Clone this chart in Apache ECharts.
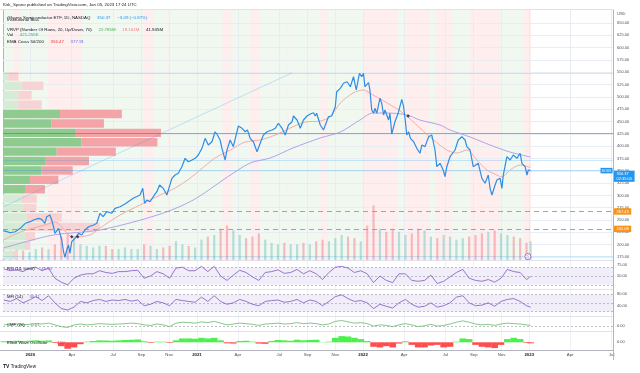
<!DOCTYPE html>
<html><head><meta charset="utf-8">
<script src="https://cdn.jsdelivr.net/npm/echarts@6/dist/echarts.min.js"></script>
<style>html,body{margin:0;padding:0;background:#fff}#c{width:640px;height:373px}</style>
</head><body><div id="c"></div>
<script>
// ---------------- DATA ----------------
const priceDates = ['2019-11-03','2019-11-18','2019-11-29','2019-12-10','2019-12-21','2020-01-01','2020-01-08','2020-01-19','2020-01-26','2020-02-02','2020-02-06','2020-02-13','2020-02-17','2020-02-21','2020-02-24','2020-03-03','2020-03-10','2020-03-14','2020-03-17','2020-03-21','2020-03-25','2020-03-28','2020-04-01','2020-04-08','2020-04-16','2020-04-23','2020-04-30','2020-05-08','2020-05-19','2020-05-26','2020-06-02','2020-06-09','2020-06-17','2020-06-28','2020-07-05','2020-07-16','2020-07-27','2020-08-03','2020-08-14','2020-08-21','2020-08-29','2020-09-04','2020-09-08','2020-09-13','2020-09-20','2020-09-27','2020-10-05','2020-10-11','2020-10-19','2020-10-27','2020-10-30','2020-11-07','2020-11-14','2020-11-21','2020-11-29','2020-12-06','2020-12-13','2020-12-21','2020-12-28','2021-01-04','2021-01-12','2021-01-19','2021-01-26','2021-02-03','2021-02-10','2021-02-15','2021-02-21','2021-02-25','2021-03-04','2021-03-08','2021-03-15','2021-03-22','2021-03-30','2021-04-02','2021-04-10','2021-04-17','2021-04-22','2021-04-28','2021-05-05','2021-05-13','2021-05-20','2021-05-27','2021-06-04','2021-06-15','2021-06-22','2021-06-29','2021-07-07','2021-07-14','2021-07-21','2021-07-29','2021-08-01','2021-08-09','2021-08-16','2021-08-23','2021-08-31','2021-09-07','2021-09-14','2021-09-18','2021-09-21','2021-09-29','2021-10-06','2021-10-10','2021-10-17','2021-10-24','2021-11-01','2021-11-04','2021-11-12','2021-11-19','2021-11-27','2021-12-04','2021-12-11','2021-12-17','2021-12-24','2021-12-29','2022-01-02','2022-01-05','2022-01-13','2022-01-16','2022-01-20','2022-01-24','2022-01-27','2022-01-31','2022-02-07','2022-02-11','2022-02-15','2022-02-18','2022-02-26','2022-03-01','2022-03-05','2022-03-12','2022-03-19','2022-03-27','2022-03-31','2022-04-04','2022-04-07','2022-04-11','2022-04-15','2022-04-22','2022-04-29','2022-05-06','2022-05-10','2022-05-17','2022-05-25','2022-06-01','2022-06-05','2022-06-08','2022-06-12','2022-06-19','2022-06-26','2022-06-30','2022-07-04','2022-07-11','2022-07-15','2022-07-22','2022-07-29','2022-08-06','2022-08-13','2022-08-17','2022-08-24','2022-08-31','2022-09-11','2022-09-19','2022-09-26','2022-10-03','2022-10-07','2022-10-11','2022-10-18','2022-10-22','2022-10-29','2022-11-02','2022-11-05','2022-11-13','2022-11-20','2022-11-27','2022-12-05','2022-12-12','2022-12-16','2022-12-23','2022-12-27','2022-12-30','2023-01-04'];
const priceValues = [228.4,224.4,226.3,233.2,243.4,246.7,250.1,253.5,251.4,243.4,256.8,260.2,250.1,236.5,223.1,233.2,209.5,185.7,174.4,189.2,199.3,182.5,206.1,213.0,223.1,219.6,229.8,236.5,240.0,243.4,263.7,256.8,267.0,263.7,273.8,277.1,282.6,287.2,294.1,297.4,300.8,314.4,284.0,290.7,287.2,297.4,307.5,321.1,314.4,300.8,304.3,334.7,341.4,344.9,358.3,375.3,368.4,371.9,375.3,382.0,395.6,415.9,402.3,409.0,429.3,422.6,412.5,395.6,371.9,392.2,412.5,399.0,429.3,440.9,436.2,429.3,432.8,415.9,409.0,388.7,405.8,422.6,429.3,432.8,436.2,446.4,436.2,422.6,442.9,449.6,461.2,453.1,436.2,453.1,461.2,465.3,467.9,461.2,466.7,442.9,432.8,436.2,459.8,461.2,480.1,510.5,517.4,527.6,530.8,520.7,541.0,514.0,547.9,541.0,547.9,520.7,528.8,514.0,473.4,466.7,476.8,466.7,497.1,487.0,463.2,473.4,453.1,466.7,424.7,449.6,466.7,495.1,480.1,449.6,422.6,429.3,415.9,409.0,395.6,385.5,402.3,399.0,419.2,422.6,419.2,392.2,358.3,365.2,351.6,338.0,358.3,378.6,382.0,392.2,412.5,419.2,412.5,399.0,392.2,358.3,365.2,334.7,324.6,341.4,314.4,300.8,321.1,331.3,334.7,314.4,341.4,378.6,371.9,382.0,375.3,385.5,365.2,358.3,341.4,351.6,350.37];

const ema50Dates = ['2019-11-03','2019-12-10','2020-02-02','2020-02-24','2020-04-04','2020-05-11','2020-06-02','2020-07-16','2020-08-29','2020-10-12','2020-11-14','2020-12-17','2021-01-08','2021-02-10','2021-03-15','2021-04-17','2021-05-20','2021-06-22','2021-07-25','2021-08-27','2021-09-29','2021-10-21','2021-11-12','2021-12-10','2022-01-01','2022-01-23','2022-02-23','2022-03-30','2022-05-06','2022-06-05','2022-07-04','2022-07-26','2022-08-17','2022-09-08','2022-09-30','2022-10-22','2022-11-02','2022-11-20','2022-12-12','2023-01-04'];
const ema50Values = [209.5,225.7,240.0,246.0,215.6,219.6,233.8,260.2,280.5,300.8,315.0,335.0,351.6,376.0,392.0,408.4,412.5,422.6,436.8,449.0,451.0,460.0,487.6,507.9,514.0,503.8,487.6,467.3,436.8,412.5,392.2,386.0,392.2,371.9,351.6,341.4,337.4,351.6,361.7,356.47];

const ema200Dates = ['2019-11-03','2020-02-20','2020-06-02','2020-10-12','2020-12-24','2021-03-09','2021-04-28','2021-06-11','2021-07-31','2021-09-29','2021-11-12','2021-12-25','2022-01-23','2022-02-23','2022-04-08','2022-05-06','2022-06-19','2022-07-11','2022-08-24','2022-10-07','2022-11-20','2023-01-04'];
const ema200Values = [193.2,219.6,229.8,262.0,290.7,337.4,365.8,376.0,396.3,416.6,428.7,453.0,467.3,467.3,463.2,453.0,443.0,432.8,418.6,402.3,388.0,377.91];

// Volume profile (VRVP, 20 rows, up/down volume in millions, top row first)
const profileHigh = 551.1, profileLow = 169.4;
const profileUp   = [4.0,14.0,11.5,11.5,42.8,36.5,54.0,59.0,40.3,31.5,29.0,20.3,16.5,14.0,15.2,17.8,17.8,16.5,16.5,7.5];
const profileDown = [7.5,16.3,10.0,17.5,46.3,39.2,64.5,56.8,44.3,33.0,23.3,21.2,15.0,11.3,9.8,26.3,54.8,7.5,3.8,3.8];
const valueAreaRows = [4, 12];

// sampled dates for volume and the lower indicators
const subDates = ['2019-11-04','2019-11-18','2019-12-02','2019-12-16','2019-12-30','2020-01-13','2020-01-27','2020-02-10','2020-02-24','2020-03-09','2020-03-23','2020-04-06','2020-04-20','2020-05-04','2020-05-18','2020-06-01','2020-06-15','2020-06-29','2020-07-13','2020-07-27','2020-08-10','2020-08-24','2020-09-07','2020-09-21','2020-10-05','2020-10-19','2020-11-02','2020-11-16','2020-11-30','2020-12-14','2020-12-28','2021-01-11','2021-01-25','2021-02-08','2021-02-22','2021-03-08','2021-03-22','2021-04-05','2021-04-19','2021-05-03','2021-05-17','2021-05-31','2021-06-14','2021-06-28','2021-07-12','2021-07-26','2021-08-09','2021-08-23','2021-09-06','2021-09-20','2021-10-04','2021-10-18','2021-11-01','2021-11-15','2021-11-29','2021-12-13','2021-12-27','2022-01-10','2022-01-24','2022-02-07','2022-02-21','2022-03-07','2022-03-21','2022-04-04','2022-04-18','2022-05-02','2022-05-16','2022-05-30','2022-06-13','2022-06-27','2022-07-11','2022-07-25','2022-08-08','2022-08-22','2022-09-05','2022-09-19','2022-10-03','2022-10-17','2022-10-31','2022-11-14','2022-11-28','2022-12-12','2022-12-26','2023-01-04'];
const volumeValues = [0.6,0.6,0.7,0.6,0.5,0.7,0.8,0.7,1.0,1.5,1.7,1.4,1.0,0.9,0.8,0.9,0.9,0.7,0.7,0.8,0.7,0.7,1.0,0.9,0.7,0.8,0.9,1.2,1.0,0.9,0.8,1.3,1.5,1.6,2.0,2.2,1.9,1.6,1.4,1.5,1.7,1.3,1.1,1.0,1.1,1.0,1.0,1.1,1.0,1.2,1.3,1.2,1.4,1.6,1.5,1.4,1.2,2.2,3.5,2.0,1.8,2.0,1.8,1.6,1.7,2.0,1.9,1.5,1.4,1.6,1.5,1.3,1.4,1.5,1.6,1.7,1.8,1.9,1.7,1.6,1.5,1.4,1.1,1.2];
const rsiValues = [66,62,64,60,68,70,62,68,45,36,30,45,52,55,55,62,58,56,60,60,62,63,45,50,60,55,45,68,70,62,62,72,60,72,50,40,52,63,58,48,40,58,60,64,56,58,65,55,62,55,42,58,70,72,68,58,62,55,35,50,40,35,55,55,40,38,40,52,33,38,48,58,65,45,40,38,42,36,45,65,60,58,42,49];
const mfiValues = [60,55,65,50,60,72,58,75,50,30,25,35,55,50,58,62,55,60,58,62,56,60,40,45,55,50,40,62,58,55,52,70,55,75,55,45,50,62,55,45,40,55,58,60,52,55,62,50,60,55,40,55,72,78,65,55,58,50,30,45,38,32,50,62,45,35,38,50,35,40,50,70,75,50,40,42,50,38,55,62,65,55,40,35];
const cmfValues = [0.05,0.08,0.1,0.05,0.08,0.12,0.1,0.15,0.05,-0.05,-0.1,0.05,0.1,0.05,0.08,0.12,0.1,0.08,0.1,0.12,0.15,0.12,0.05,0.02,0.1,0.05,-0.05,0.15,0.2,0.18,0.15,0.22,0.18,0.25,0.15,0.05,0.1,0.15,0.12,0.08,0.02,0.1,0.12,0.15,0.1,0.12,0.18,0.12,0.15,0.12,0.05,0.1,0.25,0.3,0.22,0.15,0.18,0.12,-0.02,0.05,0.02,-0.05,0.05,0.12,0.05,-0.05,0,0.08,-0.02,0.02,0.1,0.2,0.28,0.2,0.1,0.05,0.08,0.02,0.1,0.15,0.12,0.1,0.05,0.02];
const ewoValues = [8,10,12,10,12,15,12,14,-5,-30,-50,-40,-15,5,10,15,14,12,15,18,20,22,8,-5,5,5,-5,15,30,30,28,35,30,35,15,-8,-10,10,12,5,-10,-12,10,18,15,12,20,15,18,20,2,5,35,48,45,35,25,10,-35,-40,-30,-40,-10,8,-20,-40,-40,-25,-20,-40,-35,5,30,25,-20,-35,-40,-45,-20,25,35,25,-5,-8];

// Institutional bias background periods
const biasStarts = ['2019-11-03','2019-11-25','2019-12-10','2020-02-07','2020-04-24','2020-09-05','2020-09-27','2020-10-28','2020-11-03','2021-02-26','2021-03-20','2021-04-28','2021-05-20','2021-07-18','2021-07-21','2021-09-29','2021-10-16','2022-01-01','2022-03-19','2022-04-04','2022-05-28','2022-06-08','2022-07-16','2022-08-24','2022-10-29','2022-12-19'];
const biasEnds   = ['2019-11-25','2019-12-10','2020-02-07','2020-04-24','2020-09-05','2020-09-27','2020-10-28','2020-11-03','2021-02-26','2021-03-20','2021-04-28','2021-05-20','2021-07-18','2021-07-21','2021-09-29','2021-10-16','2022-01-01','2022-03-19','2022-04-04','2022-05-28','2022-06-08','2022-07-16','2022-08-24','2022-10-29','2022-12-19','2023-01-05'];
const biasBull   = [1,0,1,0,1,0,1,0,1,0,1,0,1,0,1,0,1,0,1,0,1,0,1,0,1,0];

// horizontal levels
const pocLevel = 427.0;
const supportLevels = [267.43, 232.08];
const blueLevels = [549.0, 372.0, 177.0];
const lastPrice = 350.37;
const trendStart = ['2019-11-03', 277], trendEnd = ['2021-07-29', 549];
const crossMarks = [['2020-04-01', 216], ['2020-04-14', 216], ['2022-04-10', 461]];
const dividendDate = '2022-12-29';

// axis ticks
const xTickDates = ['2020-01-01','2020-04-01','2020-07-01','2020-09-01','2020-11-01','2021-01-01','2021-04-01','2021-07-01','2021-09-01','2021-11-01','2022-01-01','2022-04-01','2022-07-01','2022-09-01','2022-11-01','2023-01-01','2023-04-01','2023-07-01'];
const xTickLabels = ['2020','Apr','Jul','Sep','Nov','2021','Apr','Jul','Sep','Nov','2022','Apr','Jul','Sep','Nov','2023','Apr','Jul'];
const priceTicks = [175,200,225,250,275,300,325,350,375,400,425,450,475,500,525,550,575,600,625,650];

// ---------------- CHART ----------------
const T = s => new Date(s + 'T00:00:00Z').getTime();
const X_MIN = T('2019-11-02'), X_MAX = T('2023-07-04');
const P_MIN = 168.9, P_MAX = 676.4;
const FONT = 'Liberation Sans';
const xTicksTs = xTickDates.map(T);
const tickLabelOf = v => { let best = '', bd = Infinity; xTicksTs.forEach((t, i) => { const d = Math.abs(t - v); if (d < bd) { bd = d; best = xTickLabels[i]; } }); return bd < 86400000 ? best : ''; };

const pair = (ds, vs) => ds.map((d, i) => [T(d), vs[i]]);
const vGrid = () => xTicksTs.map(t => ({ xAxis: t }));

const rowH = (profileHigh - profileLow) / profileUp.length;
const profileData = profileUp.map((u, i) => [u, profileDown[i], profileHigh - i * rowH, profileHigh - (i + 1) * rowH, (i >= valueAreaRows[0] && i <= valueAreaRows[1]) ? 1 : 0]);
const profileMaxTotal = Math.max(...profileUp.map((u, i) => u + profileDown[i]));

const chart = echarts.init(document.getElementById('c'), null, { renderer: 'canvas' });

const grids = [
  { left: 3, right: 27, top: 10, height: 250 },
  { left: 3, right: 27, top: 261, height: 28 },
  { left: 3, right: 27, top: 290, height: 26 },
  { left: 3, right: 27, top: 317, height: 14 },
  { left: 3, right: 27, top: 332, height: 18 }
];
const timeAxis = (g, show) => ({
  type: 'value', gridIndex: g, min: X_MIN, max: X_MAX, show: true, scale: true,
  axisLine: { show: false }, axisTick: { show: false }, splitLine: { show: false },
  axisLabel: show ? {
    customValues: xTicksTs, fontSize: 4.3, fontFamily: FONT, color: '#4a4e5a', margin: 3, hideOverlap: false,
    formatter: v => { const l = tickLabelOf(v); return /^\d{4}$/.test(l) ? '{y|' + l + '}' : l; },
    rich: { y: { fontWeight: 'bold', fontSize: 4.3, fontFamily: FONT, color: '#131722' } }
  } : { show: false }
});
const subY = (g, min, max, ticks, dec) => ({
  type: 'value', gridIndex: g, min, max, position: 'right',
  axisLine: { show: true, lineStyle: { color: '#b2b5be', width: 1 } }, axisTick: { show: false }, splitLine: { show: false },
  axisLabel: { customValues: ticks, formatter: v => v.toFixed(dec), fontSize: 4, fontFamily: FONT, color: '#4a4e5a', margin: 4 }
});
const dashed = { color: '#9598a1', width: 0.6, type: [2, 2] };
const vgridLine = (z) => ({ silent: true, symbol: 'none', z, label: { show: false }, lineStyle: { color: '#eef1f6', width: 1, type: 'solid' }, data: vGrid() });
const FS = 4.4;

const option = {
  animation: false,
  backgroundColor: '#ffffff',
  grid: grids,
  xAxis: [timeAxis(0, false), { type: 'value', gridIndex: 0, position: 'top', min: 0, max: profileMaxTotal / 0.259, show: false },
          timeAxis(1, false), timeAxis(2, false), timeAxis(3, false), timeAxis(4, true)],
  yAxis: [
    { type: 'value', gridIndex: 0, min: P_MIN, max: P_MAX, position: 'right',
      axisLine: { show: true, lineStyle: { color: '#b2b5be', width: 1 } }, axisTick: { show: false }, splitLine: { show: false },
      axisLabel: { customValues: priceTicks, formatter: v => v.toFixed(2), fontSize: 4, fontFamily: FONT, color: '#4a4e5a', margin: 4 } },
    { type: 'value', gridIndex: 0, min: 0, max: 16, show: false },
    subY(1, 20.5, 84.1, [50, 75], 2),
    subY(2, 3.9, 95.1, [40, 80], 2),
    subY(3, -0.3, 0.5, [0], 2),
    subY(4, -60, 80, [0], 2)
  ],
  series: [
    { name: 'bias', type: 'line', xAxisIndex: 0, yAxisIndex: 0, data: [], silent: true,
      markArea: { silent: true, z: 0,
        data: biasStarts.map((s, i) => [{ xAxis: T(s), itemStyle: { color: biasBull[i] ? 'rgba(76,175,80,0.085)' : 'rgba(244,67,54,0.085)' } }, { xAxis: T(biasEnds[i]) }]) } },
    { name: 'grid', type: 'line', xAxisIndex: 0, yAxisIndex: 0, data: [], silent: true,
      markLine: { silent: true, symbol: 'none', z: 0.5, label: { show: false }, lineStyle: { color: '#e8ecf3', width: 1, type: 'solid' },
        data: vGrid().concat(priceTicks.map(v => ({ yAxis: v }))) } },
    { name: 'Vol', type: 'bar', xAxisIndex: 0, yAxisIndex: 1, z: 1, barWidth: 2.2, silent: true,
      data: subDates.map((d, i) => ({ value: [T(d), volumeValues[i]],
        itemStyle: { color: (i > 0 && rsiValues[i] < rsiValues[i - 1]) ? 'rgba(242,54,69,0.3)' : 'rgba(38,166,154,0.3)' } })) },
    { name: 'VRVP', type: 'custom', xAxisIndex: 1, yAxisIndex: 0, z: 2, silent: true, data: profileData,
      renderItem: (params, api) => {
        const up = api.value(0), dn = api.value(1), hi = api.value(2), lo = api.value(3), va = api.value(4);
        const a = api.coord([0, hi]), b = api.coord([up, lo]), c = api.coord([up + dn, lo]);
        const y0 = a[1] + 0.5, h = b[1] - a[1] - 1;
        return { type: 'group', children: [
          { type: 'rect', shape: { x: a[0], y: y0, width: b[0] - a[0], height: h }, style: { fill: va ? '#8fca8f' : '#d6ebd6' } },
          { type: 'rect', shape: { x: b[0], y: y0, width: c[0] - b[0], height: h }, style: { fill: va ? '#f4a3a6' : '#f7d3d3' } }
        ] };
      } },
    { name: 'levels', type: 'line', xAxisIndex: 0, yAxisIndex: 0, data: [], silent: true,
      markLine: { silent: true, symbol: 'none', z: 3, label: { show: false },
        data: [
          { yAxis: pocLevel, lineStyle: { color: 'rgba(242,54,69,0.6)', width: 1, type: 'solid' } },
          ...blueLevels.map(v => ({ yAxis: v, lineStyle: { color: 'rgba(33,150,243,0.22)', width: 1, type: 'solid' } })),
          [{ coord: [T(trendStart[0]), trendStart[1]], lineStyle: { color: 'rgba(33,150,243,0.25)', width: 1, type: 'solid' } }, { coord: [T(trendEnd[0]), trendEnd[1]] }],
          ...supportLevels.map(v => ({ yAxis: v, lineStyle: { color: '#f7931a', width: 1.2, type: [5, 4] },
            label: { show: true, position: 'end', distance: 1, formatter: v.toFixed(2), backgroundColor: '#f7931a', color: '#fff', fontSize: 4, fontFamily: FONT, padding: [1.2, 2.5] } })),
          { yAxis: lastPrice, lineStyle: { color: 'rgba(33,150,243,0.3)', width: 1, type: 'solid' },
            label: { show: true, position: 'end', distance: 1, formatter: lastPrice.toFixed(2) + '\n02:35:05', backgroundColor: '#2196f3', color: '#fff', fontSize: 4, lineHeight: 4.6, fontFamily: FONT, padding: [1, 2.5], verticalAlign: 'top' } }
        ] },
      markPoint: { silent: true, z: 7,
        data: [
          { coord: [X_MAX, lastPrice], symbol: 'rect', symbolSize: [12, 5.5], symbolOffset: [-6.5, 0], itemStyle: { color: '#2196f3' },
            label: { show: true, position: 'inside', formatter: 'SOXX', color: '#fff', fontSize: 3.6, fontFamily: FONT } },
          { coord: [T(dividendDate), 176], symbol: 'circle', symbolSize: 6, itemStyle: { color: '#fff', borderColor: '#7e57c2', borderWidth: 0.8 },
            label: { show: true, position: 'inside', formatter: 'D', color: '#7e57c2', fontSize: 3.6, fontFamily: FONT } }
        ] } },
    { name: 'EMA200', type: 'line', xAxisIndex: 0, yAxisIndex: 0, z: 4, showSymbol: false, silent: true, smooth: 0.3,
      data: pair(ema200Dates, ema200Values), lineStyle: { color: '#a89be6', width: 0.9 } },
    { name: 'EMA50', type: 'line', xAxisIndex: 0, yAxisIndex: 0, z: 4, showSymbol: false, silent: true, smooth: 0.3,
      data: pair(ema50Dates, ema50Values), lineStyle: { color: '#f3a49d', width: 0.9 } },
    { name: 'SOXX', type: 'line', xAxisIndex: 0, yAxisIndex: 0, z: 5, showSymbol: false, silent: true,
      data: pair(priceDates, priceValues), lineStyle: { color: '#2f8de4', width: 1.2 } },
    { name: 'cross', type: 'scatter', xAxisIndex: 0, yAxisIndex: 0, z: 6, silent: true, symbol: 'diamond', symbolSize: 3.5,
      itemStyle: { color: '#131722' }, data: crossMarks.map(m => [T(m[0]), m[1]]) },
    { name: 'RSI', type: 'line', xAxisIndex: 2, yAxisIndex: 2, showSymbol: false, silent: true,
      data: pair(subDates, rsiValues), lineStyle: { color: '#7e57c2', width: 0.8 },
      markArea: { silent: true, z: 0, itemStyle: { color: 'rgba(126,87,194,0.1)' }, data: [[{ yAxis: 30 }, { yAxis: 70 }]] },
      markLine: { silent: true, symbol: 'none', z: 1, label: { show: false }, lineStyle: dashed, data: [{ yAxis: 70 }, { yAxis: 50 }, { yAxis: 30 }] } },
    { name: 'RSIgrid', type: 'line', xAxisIndex: 2, yAxisIndex: 2, data: [], silent: true, markLine: vgridLine(0.5) },
    { name: 'MFI', type: 'line', xAxisIndex: 3, yAxisIndex: 3, showSymbol: false, silent: true,
      data: pair(subDates, mfiValues), lineStyle: { color: '#7e57c2', width: 0.8 },
      markArea: { silent: true, z: 0, itemStyle: { color: 'rgba(126,87,194,0.1)' }, data: [[{ yAxis: 20 }, { yAxis: 80 }]] },
      markLine: { silent: true, symbol: 'none', z: 1, label: { show: false }, lineStyle: dashed, data: [{ yAxis: 80 }, { yAxis: 50 }, { yAxis: 20 }] } },
    { name: 'MFIgrid', type: 'line', xAxisIndex: 3, yAxisIndex: 3, data: [], silent: true, markLine: vgridLine(0.5) },
    { name: 'CMF', type: 'line', xAxisIndex: 4, yAxisIndex: 4, showSymbol: false, silent: true,
      data: pair(subDates, cmfValues), lineStyle: { color: '#66bb6a', width: 0.8 },
      markLine: { silent: true, symbol: 'none', z: 1, label: { show: false }, lineStyle: dashed, data: [{ yAxis: 0 }] } },
    { name: 'CMFgrid', type: 'line', xAxisIndex: 4, yAxisIndex: 4, data: [], silent: true, markLine: vgridLine(0.5) },
    { name: 'EWO', type: 'bar', xAxisIndex: 5, yAxisIndex: 5, barWidth: 6.6, silent: true,
      data: subDates.map((d, i) => ({ value: [T(d), ewoValues[i]], itemStyle: { color: ewoValues[i] >= 0 ? '#4cf04c' : '#ff4d4d' } })),
      markLine: { silent: true, symbol: 'none', z: 0.5, label: { show: false }, lineStyle: { color: '#eef1f6', width: 1, type: 'solid' }, data: vGrid() } }
  ],
  graphic: [
    { type: 'text', left: 3, top: 2.3, style: { text: 'Kirk_Spano published on TradingView.com, Jan 05, 2023 17:24 UTC', fontSize: FS, fontFamily: FONT, fill: '#131722' } },
    { type: 'text', left: 7, top: 12, z: 20, style: { text: '{t|iShares Semiconductor ETF, 1D, NASDAQ}  {v|350.37}  {v|\u22123.09 (\u22120.87%)}',
      rich: { t: { fill: '#131722', fontSize: FS, fontFamily: FONT }, v: { fill: '#2196f3', fontSize: FS, fontFamily: FONT } } } },
    { type: 'text', left: 7, top: 17.5, z: 20, style: { text: 'Institutional Bias', fontSize: FS, fontFamily: FONT, fill: '#131722' } },
    { type: 'text', left: 7, top: 23.5, z: 20, style: { text: '{t|VRVP (Number Of Rows, 20, Up/Down, 70)}  {g|22.785M}  {r|19.162M}  {t|41.945M}',
      rich: { t: { fill: '#131722', fontSize: FS, fontFamily: FONT }, g: { fill: '#4caf50', fontSize: FS, fontFamily: FONT }, r: { fill: '#f77c80', fontSize: FS, fontFamily: FONT } } } },
    { type: 'text', left: 7, top: 29, z: 20, style: { text: '{t|Vol}  {g|421.255K}',
      rich: { t: { fill: '#131722', fontSize: FS, fontFamily: FONT }, g: { fill: '#26a69a', fontSize: FS, fontFamily: FONT } } } },
    { type: 'text', left: 7, top: 35.5, z: 20, style: { text: '{t|EMA Cross 50/200}  {r|356.47}  {p|377.91}',
      rich: { t: { fill: '#131722', fontSize: FS, fontFamily: FONT }, r: { fill: '#f23645', fontSize: FS, fontFamily: FONT }, p: { fill: '#5b6ee1', fontSize: FS, fontFamily: FONT } } } },
    { type: 'text', left: 617, top: 11.5, style: { text: 'USD', fontSize: 4, fontFamily: FONT, fill: '#4a4e5a' } },
    { type: 'text', left: 7, top: 263, z: 20, style: { text: '{t|RSI (14, close)}  {v|45.90}', rich: { t: { fill: '#131722', fontSize: 4.2, fontFamily: FONT }, v: { fill: '#7e57c2', fontSize: 4.2, fontFamily: FONT } } } },
    { type: 'text', left: 7, top: 291, z: 20, style: { text: '{t|MFI (14)}  {v|30.11}', rich: { t: { fill: '#131722', fontSize: 4.2, fontFamily: FONT }, v: { fill: '#7e57c2', fontSize: 4.2, fontFamily: FONT } } } },
    { type: 'text', left: 7, top: 318.5, z: 20, style: { text: '{t|CMF (20)}  {v|0.01}', rich: { t: { fill: '#131722', fontSize: 4.2, fontFamily: FONT }, v: { fill: '#43a047', fontSize: 4.2, fontFamily: FONT } } } },
    { type: 'text', left: 7, top: 337, z: 20, style: { text: '{t|Elliott Wave Oscillator}  {v|\u22127.50}', rich: { t: { fill: '#131722', fontSize: 4.2, fontFamily: FONT }, v: { fill: '#f23645', fontSize: 4.2, fontFamily: FONT } } } },
    { type: 'line', z: 20, shape: { x1: 0, y1: 9.5, x2: 613, y2: 9.5 }, style: { stroke: '#e0e3eb', lineWidth: 1 } },
    { type: 'line', z: 20, shape: { x1: 0, y1: 260.5, x2: 613, y2: 260.5 }, style: { stroke: '#e0e3eb', lineWidth: 1 } },
    { type: 'line', z: 20, shape: { x1: 0, y1: 289.5, x2: 613, y2: 289.5 }, style: { stroke: '#e0e3eb', lineWidth: 1 } },
    { type: 'line', z: 20, shape: { x1: 0, y1: 316.5, x2: 613, y2: 316.5 }, style: { stroke: '#e0e3eb', lineWidth: 1 } },
    { type: 'line', z: 20, shape: { x1: 0, y1: 331.5, x2: 613, y2: 331.5 }, style: { stroke: '#e0e3eb', lineWidth: 1 } },
    { type: 'line', z: 20, shape: { x1: 0, y1: 350.5, x2: 613.5, y2: 350.5 }, style: { stroke: '#b2b5be', lineWidth: 1 } },
    { type: 'line', z: 20, shape: { x1: 613.5, y1: 9.5, x2: 613.5, y2: 360 }, style: { stroke: '#b2b5be', lineWidth: 1 } },
    { type: 'text', left: 3, top: 364.5, style: { text: '{b|TV} TradingView', rich: { b: { fontWeight: 'bold', fill: '#131722', fontSize: 5, fontFamily: FONT } }, fontSize: 4.6, fontFamily: FONT, fill: '#131722' } }
  ]
};
chart.setOption(option);
</script>
</body></html>
